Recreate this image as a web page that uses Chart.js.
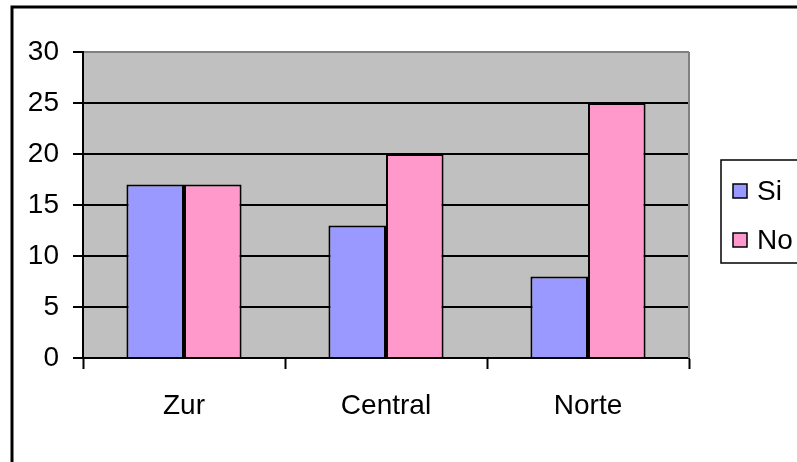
<!DOCTYPE html>
<html>
<head>
<meta charset="utf-8">
<script src="https://cdn.jsdelivr.net/npm/chart.js@4/dist/chart.umd.min.js"></script>
<style>
    html, body { margin: 0; padding: 0; background: #ffffff; }
    #wrap { position: relative; width: 797px; height: 462px; }
</style>
</head>
<body>
<div id="wrap"><canvas id="myChart" width="797" height="462"></canvas></div>
<script>
// Chart data
const categories = ['Zur', 'Central', 'Norte'];
const siValues = [17, 13, 8];
const noValues = [17, 20, 25];
const seriesNames = ['Si', 'No'];
const yTicks = [0, 5, 10, 15, 20, 25, 30];

const FONT = '"Liberation Sans", Arial, sans-serif';
const FONT_SIZE = 28;

// Draws the gray plot area, the outer frame and the boxed legend
const excelLook = {
    id: 'excelLook',
    beforeDraw(chart) {
        const { ctx, chartArea } = chart;
        ctx.save();
        ctx.fillStyle = '#c0c0c0';
        ctx.fillRect(chartArea.left, chartArea.top, chartArea.right - chartArea.left, chartArea.bottom - chartArea.top);
        ctx.restore();
    },
    afterDraw(chart) {
        const { ctx, chartArea } = chart;
        ctx.save();

        // right border of the plot area (gray)
        ctx.strokeStyle = '#808080';
        ctx.lineWidth = 2;
        ctx.beginPath();
        ctx.moveTo(chartArea.right, chartArea.top);
        ctx.lineTo(chartArea.right, chartArea.bottom);
        ctx.stroke();

        // outer frame
        ctx.strokeStyle = '#000000';
        ctx.lineWidth = 3;
        ctx.beginPath();
        ctx.moveTo(12, 470);
        ctx.lineTo(12, 7);
        ctx.lineTo(810, 7);
        ctx.stroke();

        // legend box
        ctx.lineWidth = 1.5;
        ctx.strokeRect(721, 160, 100, 103);

        chart.data.datasets.forEach((ds, i) => {
            const y = 191 + i * 49;
            ctx.fillStyle = ds.backgroundColor;
            ctx.fillRect(733, y - 7, 14, 14);
            ctx.strokeStyle = '#000000';
            ctx.lineWidth = 1.5;
            ctx.strokeRect(733, y - 7, 14, 14);
            ctx.fillStyle = '#000000';
            ctx.font = FONT_SIZE + 'px ' + FONT;
            ctx.textBaseline = 'middle';
            ctx.textAlign = 'left';
            ctx.fillText(ds.label, 757, y + 1);
        });
        ctx.restore();
    }
};

const ctx = document.getElementById('myChart').getContext('2d');
const myChart = new Chart(ctx, {
    type: 'bar',
    data: {
        labels: categories,
        datasets: [
            {
                label: seriesNames[0],
                data: siValues,
                backgroundColor: '#9999ff',
                borderColor: '#000000',
                borderWidth: 2,
            },
            {
                label: seriesNames[1],
                data: noValues,
                backgroundColor: '#ff99cc',
                borderColor: '#000000',
                borderWidth: 2,
            },
        ],
    },
    options: {
        responsive: false,
        animation: false,
        categoryPercentage: 0.57,
        barPercentage: 1,
        layout: {
            padding: { left: 0, top: 52, right: 108, bottom: 0 },
        },
        plugins: {
            legend: { display: false },
            tooltip: { enabled: false },
        },
        scales: {
            x: {
                grid: {
                    drawOnChartArea: false,
                    drawTicks: true,
                    tickLength: 11,
                    tickColor: '#000000',
                    tickWidth: 2,
                    offset: true,
                },
                border: { color: '#000000', width: 2 },
                ticks: {
                    color: '#000000',
                    padding: 20,
                    font: { family: FONT, size: FONT_SIZE },
                },
                afterFit(scale) {
                    scale.height = 104;
                },
            },
            y: {
                min: 0,
                max: 30,
                afterBuildTicks(scale) {
                    scale.ticks = yTicks.map(v => ({ value: v }));
                },
                grid: {
                    color: ctx => (ctx.tick && ctx.tick.value === 30 ? '#808080' : '#000000'),
                    lineWidth: 2,
                    drawTicks: true,
                    tickLength: 10,
                    tickColor: '#000000',
                    tickWidth: 2,
                },
                border: { color: '#000000', width: 2 },
                ticks: {
                    color: '#000000',
                    padding: 14,
                    font: { family: FONT, size: FONT_SIZE },
                },
                afterFit(scale) {
                    scale.width = 83;
                },
            },
        },
    },
    plugins: [excelLook],
});
</script>
</body>
</html>
